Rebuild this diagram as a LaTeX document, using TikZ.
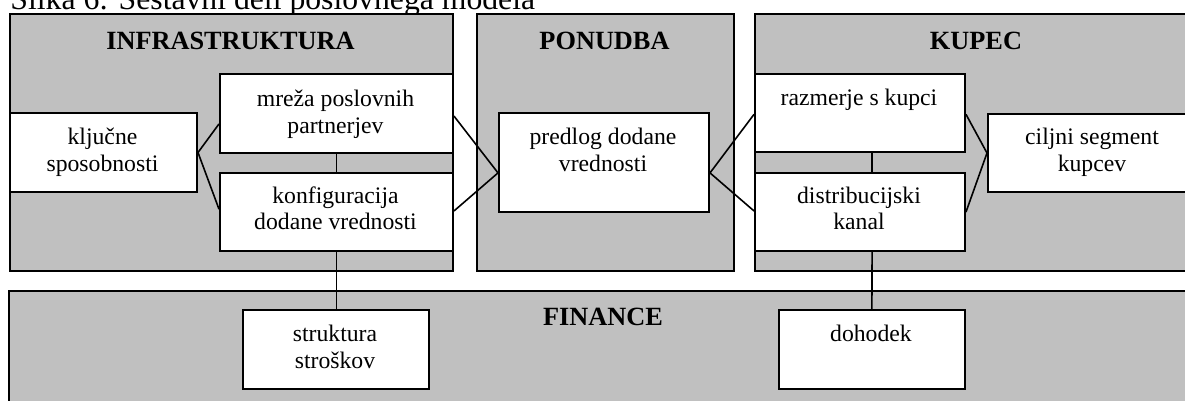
\documentclass[tikz,border=0pt]{standalone}
\usepackage{fontspec}
\setmainfont{Liberation Serif}
\usetikzlibrary{calc}
\definecolor{panelgray}{HTML}{C0C0C0}
\begin{document}
\begin{tikzpicture}[x=0.5pt,y=-0.5pt,
  panel/.style={draw=black, line width=1pt, fill=panelgray, anchor=north west, inner sep=0pt},
  box/.style={draw=black, line width=1pt, fill=white, anchor=north west, inner sep=0pt},
  conn/.style={draw=black, line width=0.8pt},
  txt/.style={anchor=base, inner sep=0pt, font=\fontsize{11.85pt}{13.35pt}\selectfont},
  ttl/.style={anchor=base, inner sep=0pt, font=\fontsize{13.15pt}{15pt}\selectfont\bfseries},
  captxt/.style={anchor=base west, inner sep=0pt, font=\fontsize{15.85pt}{18pt}\selectfont}
]
\useasboundingbox (0,0) rectangle (1185,401);
\clip (0,0) rectangle (1185,401);

% caption
\node[captxt] (caption) at (10,10) {Slika 6: Sestavni deli poslovnega modela};

% panels
\node[panel, minimum width=221.5pt, minimum height=128.5pt] (infra) at (9,13) {};
\node[panel, minimum width=128.5pt, minimum height=128.5pt] (ponudba) at (476,13) {};
\node[panel, minimum width=222pt, minimum height=128.5pt] (kupec) at (754,13) {};
\node[panel, minimum width=595pt, minimum height=65pt] (finance) at (8,290) {};

% panel titles
\node[ttl] (tinfra) at (230.5,50) {INFRASTRUKTURA};
\node[ttl] (tponudba) at (604.5,50) {PONUDBA};
\node[ttl] (tkupec) at (976,50) {KUPEC};
\node[ttl] (tfinance) at (603,326) {FINANCE};

% boxes
\node[box, minimum width=93.5pt, minimum height=39.5pt] (kl) at (9,112) {};
\node[box, minimum width=116.5pt, minimum height=39.5pt] (mr) at (219,73) {};
\node[box, minimum width=116.5pt, minimum height=39pt] (ko) at (219,172) {};
\node[box, minimum width=105pt, minimum height=49.5pt] (pr) at (498,112) {};
\node[box, minimum width=105pt, minimum height=39pt] (ra) at (754,73) {};
\node[box, minimum width=105pt, minimum height=39pt] (di) at (754,172) {};
\node[box, minimum width=105pt, minimum height=39pt] (ci) at (987,113) {};
\node[box, minimum width=93.3pt, minimum height=39.5pt] (st) at (241.7,309.3) {};
\node[box, minimum width=93.2pt, minimum height=39.5pt] (do) at (777.7,309) {};

% box texts
\node[txt] (kl1) at (102.5,145) {ključne};
\node[txt] (kl2) at (102.5,171.7) {sposobnosti};
\node[txt] (mr1) at (335.5,106.5) {mreža poslovnih};
\node[txt] (mr2) at (335.5,133.2) {partnerjev};
\node[txt] (ko1) at (335.5,203.3) {konfiguracija};
\node[txt] (ko2) at (335.5,230) {dodane vrednosti};
\node[txt] (pr1) at (603,145) {predlog dodane};
\node[txt] (pr2) at (603,171.7) {vrednosti};
\node[txt] (ra1) at (859,106) {razmerje s kupci};
\node[txt] (di1) at (859,203.3) {distribucijski};
\node[txt] (di2) at (859,230) {kanal};
\node[txt] (ci1) at (1092,145) {ciljni segment};
\node[txt] (ci2) at (1092,171.7) {kupcev};
\node[txt] (st1) at (335,341.7) {struktura};
\node[txt] (st2) at (335,368.4) {stroškov};
\node[txt] (do1) at (871,341.7) {dohodek};

% connectors
\draw[conn] ($(mr.north west)!0.629!(mr.south west)$) -- (kl.east) -- ($(ko.north west)!0.465!(ko.south west)$);
\draw[conn] ($(mr.north east)!0.532!(mr.south east)$) -- ($(pr.north west)!0.603!(pr.south west)$) -- ($(ko.north east)!0.487!(ko.south east)$);
\draw[conn] ($(ra.north west)!0.517!(ra.south west)$) -- ($(pr.north east)!0.603!(pr.south east)$) -- ($(di.north west)!0.487!(di.south west)$);
\draw[conn] ($(ra.north east)!0.517!(ra.south east)$) -- (ci.west) -- (di.east);
\draw[conn] (mr.south) -- (ko.north);
\draw[conn] ($(ra.south west)!0.557!(ra.south east)$) -- ($(di.north west)!0.557!(di.north east)$);
\draw[conn] (ko.south) -- (ko.south |- st.north);
\draw[conn] ($(di.south west)!0.557!(di.south east)$) -- (do.north);
\end{tikzpicture}
\end{document}
